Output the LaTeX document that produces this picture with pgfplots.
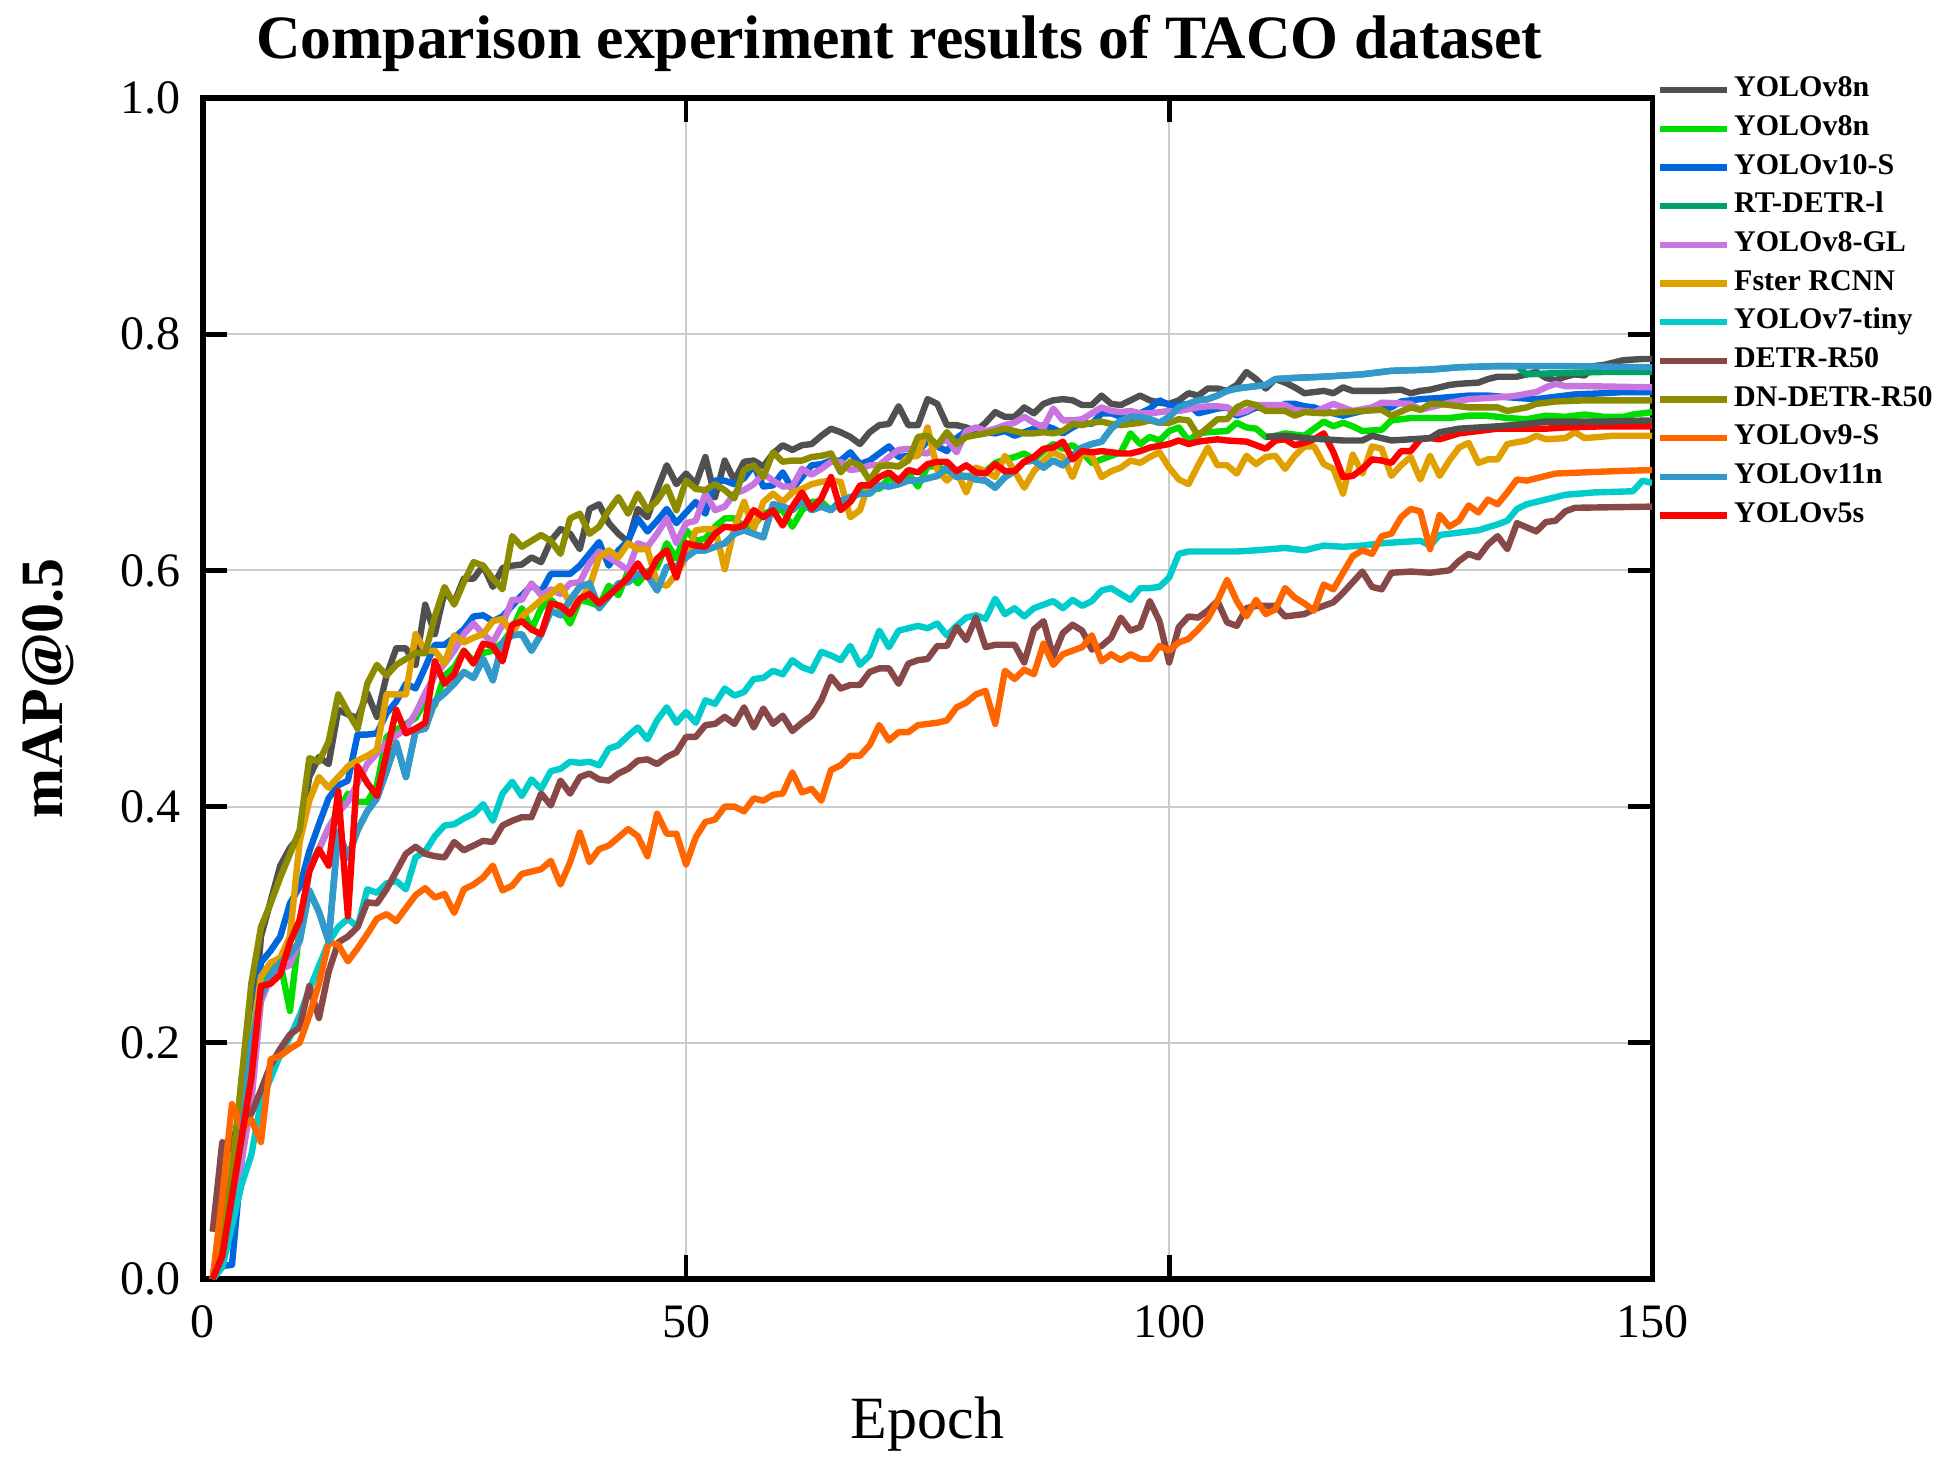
\documentclass[border=0pt]{standalone}
\usepackage{fontspec}
\setmainfont{Liberation Serif}
\usepackage{pgfplots}
\pgfplotsset{compat=1.18}

\definecolor{cGray}{HTML}{505050}
\definecolor{cGreen}{HTML}{00DD00}
\definecolor{cBlue}{HTML}{0066DD}
\definecolor{cTeal}{HTML}{00A066}
\definecolor{cViolet}{HTML}{C875E0}
\definecolor{cGold}{HTML}{E0A000}
\definecolor{cCyan}{HTML}{00CCCC}
\definecolor{cBrown}{HTML}{884848}
\definecolor{cOlive}{HTML}{8C8C00}
\definecolor{cOrange}{HTML}{FF6600}
\definecolor{cLBlue}{HTML}{3399CC}
\definecolor{cRed}{HTML}{FF0000}

\begin{document}
\begin{tikzpicture}
\path[use as bounding box] (0,0) rectangle (488.5pt,366.25pt);
\begin{axis}[
  at={(50.75pt,46.5pt)}, anchor=south west,
  scale only axis, width=362.3pt, height=295.25pt,
  xmin=0, xmax=150, ymin=0, ymax=1,
  xtick={0,50,100,150}, ytick={0,0.2,0.4,0.6,0.8,1.0},
  /pgf/number format/assume math mode=true,
  tick label style={font=\fontsize{12}{14}\selectfont},
  xticklabel style={yshift=-3pt},
  yticklabel style={/pgf/number format/fixed, /pgf/number format/fixed zerofill,
    /pgf/number format/precision=1, xshift=-2pt},
  tick align=inside, major tick length=6pt,
  every tick/.style={black, line width=1.2pt},
  axis line style={line width=1.3pt},
  grid=major, grid style={color=black!20, line width=0.5pt},
  xlabel={Epoch}, ylabel={\textbf{mAP@0.5}},
  xlabel style={font=\fontsize{15}{18}\selectfont, at={(rel axis cs:0.5,-0.123)}, anchor=center},
  ylabel style={font=\fontsize{15}{18}\selectfont, at={(rel axis cs:-0.107,0.5)}, anchor=center},
  title={\textbf{Comparison experiment results of TACO dataset}},
  % the default title style already adds a 6pt upward shift
  title style={font=\fontsize{15.4}{18}\selectfont, at={(rel axis cs:0.4805,1.026)}, anchor=center},
  legend style={at={(rel axis cs:1,1)}, anchor=north west, xshift=1.2pt, yshift=6.8pt,
    draw=none, fill=none, inner sep=0pt, outer sep=0pt, row sep=0pt,
    font=\fontsize{7.5}{9}\selectfont\bfseries,
    nodes={inner xsep=0pt, inner ysep=0pt, text height=6.5pt, text depth=3.17pt},
    /tikz/every odd column/.append style={column sep=1pt}},
  legend cell align=left,
  legend image code/.code={\draw[#1, line width=1.6pt] (0.3pt,0pt) -- (17pt,0pt);},
  every axis plot/.append style={line width=1.6pt, no markers, line join=round},
]
% YOLOv8n
\addplot[cGray] coordinates {(1,0.0)(2,0.05)(3,0.11)(4,0.15)(5,0.19)(6,0.29)(7,0.32)(8,0.35)(9,0.365)(10,0.375)(11,0.425)(12,0.442)(13,0.436)(14,0.482)(15,0.478)(16,0.475)(17,0.496)(18,0.476)(19,0.511)(20,0.534)(21,0.534)(22,0.52)(23,0.571)(24,0.546)(25,0.582)(26,0.573)(27,0.593)(28,0.593)(29,0.604)(30,0.586)(31,0.602)(32,0.604)(33,0.605)(34,0.611)(35,0.607)(36,0.625)(37,0.635)(38,0.631)(39,0.618)(40,0.652)(41,0.656)(42,0.64)(43,0.631)(44,0.624)(45,0.652)(46,0.645)(47,0.668)(48,0.689)(49,0.673)(50,0.682)(51,0.673)(52,0.696)(53,0.662)(54,0.693)(55,0.676)(56,0.692)(57,0.693)(58,0.688)(59,0.699)(60,0.706)(61,0.702)(62,0.706)(63,0.707)(64,0.714)(65,0.72)(66,0.717)(67,0.713)(68,0.707)(69,0.717)(70,0.723)(71,0.724)(72,0.739)(73,0.723)(74,0.723)(75,0.745)(76,0.741)(77,0.723)(78,0.723)(79,0.721)(80,0.718)(81,0.725)(82,0.734)(83,0.73)(84,0.73)(85,0.738)(86,0.733)(87,0.741)(88,0.744)(89,0.745)(90,0.744)(91,0.74)(92,0.74)(93,0.748)(94,0.741)(95,0.74)(96,0.744)(97,0.748)(98,0.744)(99,0.742)(100,0.741)(101,0.744)(102,0.75)(103,0.748)(104,0.754)(105,0.754)(106,0.752)(107,0.757)(108,0.768)(109,0.762)(110,0.754)(111,0.762)(112,0.759)(113,0.755)(114,0.75)(116,0.752)(117,0.75)(118,0.755)(119,0.752)(121,0.752)(122,0.752)(124,0.753)(125,0.75)(126,0.752)(127,0.753)(129,0.757)(130,0.758)(132,0.759)(133,0.762)(134,0.764)(136,0.764)(137,0.766)(138,0.768)(139,0.763)(140,0.761)(141,0.764)(142,0.766)(143,0.765)(144,0.773)(145,0.774)(146,0.776)(147,0.778)(149,0.779)(150,0.779)};
\addlegendentry{YOLOv8n}
% YOLOv8n (green)
\addplot[cGreen] coordinates {(1,0.0)(2,0.02)(3,0.08)(4,0.17)(5,0.21)(6,0.25)(7,0.262)(8,0.268)(9,0.227)(10,0.296)(11,0.35)(12,0.364)(13,0.382)(14,0.396)(15,0.411)(16,0.404)(17,0.404)(18,0.418)(19,0.459)(20,0.465)(21,0.47)(22,0.475)(23,0.489)(24,0.486)(25,0.511)(26,0.518)(27,0.532)(28,0.523)(29,0.53)(30,0.532)(31,0.539)(32,0.55)(33,0.568)(34,0.55)(35,0.568)(36,0.575)(37,0.568)(38,0.555)(39,0.575)(40,0.573)(41,0.57)(42,0.587)(43,0.579)(44,0.599)(45,0.589)(46,0.599)(47,0.603)(48,0.623)(49,0.61)(50,0.634)(51,0.625)(52,0.627)(53,0.637)(54,0.644)(55,0.644)(56,0.637)(57,0.638)(58,0.648)(59,0.651)(60,0.651)(61,0.637)(62,0.651)(63,0.658)(64,0.658)(65,0.651)(66,0.659)(67,0.658)(68,0.669)(69,0.671)(70,0.669)(71,0.678)(72,0.675)(73,0.682)(74,0.671)(75,0.688)(76,0.688)(77,0.684)(78,0.682)(79,0.679)(80,0.682)(81,0.684)(82,0.691)(83,0.694)(84,0.696)(85,0.699)(86,0.694)(87,0.701)(88,0.707)(89,0.703)(90,0.706)(91,0.70)(92,0.691)(93,0.694)(94,0.697)(95,0.7)(96,0.716)(97,0.707)(98,0.713)(99,0.71)(100,0.718)(101,0.721)(102,0.71)(103,0.716)(104,0.717)(106,0.718)(107,0.725)(108,0.721)(109,0.72)(110,0.713)(111,0.714)(112,0.716)(113,0.715)(114,0.714)(115,0.72)(116,0.726)(117,0.722)(118,0.725)(119,0.722)(120,0.718)(122,0.719)(123,0.727)(125,0.729)(127,0.729)(129,0.729)(131,0.731)(133,0.731)(135,0.729)(137,0.728)(139,0.731)(141,0.73)(143,0.732)(145,0.73)(147,0.73)(148,0.732)(150,0.734)};
\addlegendentry{YOLOv8n}
% YOLOv10-S
\addplot[cBlue] coordinates {(1,0.01)(2,0.011)(3,0.012)(4,0.1)(5,0.2)(6,0.268)(7,0.278)(8,0.29)(9,0.318)(10,0.332)(11,0.362)(12,0.385)(13,0.407)(14,0.418)(15,0.422)(16,0.461)(17,0.461)(18,0.462)(19,0.479)(20,0.489)(21,0.504)(22,0.5)(23,0.518)(24,0.537)(25,0.537)(26,0.543)(27,0.55)(28,0.561)(29,0.562)(30,0.557)(31,0.561)(32,0.57)(33,0.579)(34,0.587)(35,0.582)(36,0.597)(37,0.597)(38,0.597)(39,0.604)(40,0.614)(41,0.624)(42,0.604)(43,0.617)(44,0.625)(45,0.644)(46,0.633)(47,0.642)(48,0.652)(49,0.64)(50,0.649)(51,0.658)(52,0.648)(53,0.676)(54,0.676)(55,0.673)(56,0.678)(57,0.689)(58,0.671)(59,0.672)(60,0.683)(61,0.669)(62,0.679)(63,0.689)(64,0.69)(65,0.693)(66,0.693)(67,0.7)(68,0.69)(69,0.693)(70,0.699)(71,0.705)(72,0.696)(73,0.697)(74,0.7)(75,0.71)(76,0.705)(77,0.701)(78,0.712)(79,0.718)(80,0.717)(81,0.717)(82,0.716)(83,0.718)(84,0.714)(85,0.717)(86,0.72)(87,0.723)(88,0.72)(89,0.716)(90,0.721)(91,0.725)(92,0.724)(93,0.733)(94,0.733)(95,0.73)(96,0.728)(97,0.733)(98,0.737)(99,0.744)(100,0.74)(101,0.74)(102,0.741)(103,0.733)(104,0.735)(105,0.737)(106,0.738)(107,0.731)(108,0.734)(109,0.738)(110,0.737)(111,0.735)(112,0.741)(113,0.741)(114,0.739)(115,0.738)(116,0.735)(118,0.731)(120,0.735)(121,0.736)(123,0.738)(124,0.743)(126,0.745)(128,0.746)(131,0.748)(133,0.748)(136,0.746)(138,0.745)(139,0.746)(142,0.749)(145,0.75)(147,0.751)(150,0.751)};
\addlegendentry{YOLOv10-S}
% RT-DETR-l
\addplot[cTeal] coordinates {(1,0.0)(2,0.018)(3,0.067)(4,0.12)(5,0.2)(6,0.24)(7,0.258)(8,0.268)(9,0.275)(10,0.286)(11,0.329)(12,0.311)(13,0.286)(14,0.379)(15,0.357)(16,0.38)(17,0.396)(18,0.407)(19,0.43)(20,0.454)(21,0.425)(22,0.464)(23,0.466)(24,0.489)(25,0.496)(26,0.504)(27,0.514)(28,0.509)(29,0.525)(30,0.507)(31,0.539)(32,0.545)(33,0.546)(34,0.532)(35,0.546)(36,0.566)(37,0.562)(38,0.575)(39,0.586)(40,0.589)(41,0.568)(42,0.578)(43,0.589)(44,0.59)(45,0.597)(46,0.596)(47,0.583)(48,0.603)(49,0.603)(50,0.611)(51,0.617)(52,0.617)(53,0.62)(54,0.623)(55,0.631)(56,0.634)(57,0.631)(58,0.628)(59,0.656)(60,0.654)(61,0.651)(62,0.659)(63,0.651)(64,0.654)(65,0.651)(66,0.659)(67,0.662)(68,0.665)(69,0.665)(70,0.672)(71,0.671)(72,0.673)(73,0.676)(74,0.676)(75,0.678)(76,0.68)(77,0.687)(78,0.679)(79,0.68)(80,0.677)(81,0.676)(82,0.67)(83,0.679)(84,0.684)(85,0.692)(86,0.693)(87,0.687)(88,0.693)(89,0.689)(90,0.697)(91,0.704)(92,0.707)(93,0.709)(94,0.72)(95,0.727)(96,0.73)(97,0.73)(98,0.728)(99,0.725)(100,0.73)(101,0.738)(102,0.741)(103,0.744)(104,0.745)(105,0.748)(106,0.752)(107,0.754)(108,0.755)(110,0.757)(111,0.762)(113,0.763)(116,0.764)(120,0.766)(123,0.769)(127,0.77)(130,0.772)(134,0.773)(136,0.773)(137,0.766)(140,0.767)(145,0.768)(150,0.768)};
\addlegendentry{RT-DETR-l}
% YOLOv8-GL
\addplot[cViolet] coordinates {(1,0.0)(2,0.01)(3,0.05)(4,0.1)(5,0.15)(6,0.235)(7,0.255)(8,0.262)(9,0.266)(10,0.286)(11,0.346)(12,0.364)(13,0.382)(14,0.395)(15,0.404)(16,0.42)(17,0.436)(18,0.445)(19,0.454)(20,0.46)(21,0.466)(22,0.479)(23,0.496)(24,0.511)(25,0.521)(26,0.532)(27,0.546)(28,0.555)(29,0.546)(30,0.539)(31,0.554)(32,0.575)(33,0.575)(34,0.589)(35,0.579)(36,0.584)(37,0.58)(38,0.589)(39,0.59)(40,0.606)(41,0.616)(42,0.611)(43,0.606)(44,0.6)(45,0.623)(46,0.62)(47,0.631)(48,0.644)(49,0.623)(50,0.64)(51,0.642)(52,0.665)(53,0.651)(54,0.654)(55,0.665)(56,0.668)(57,0.673)(58,0.682)(59,0.676)(60,0.671)(61,0.671)(62,0.686)(63,0.681)(64,0.686)(65,0.692)(66,0.692)(67,0.685)(68,0.686)(69,0.689)(70,0.689)(71,0.696)(72,0.702)(73,0.703)(74,0.7)(75,0.699)(76,0.707)(77,0.711)(78,0.70)(79,0.718)(80,0.721)(81,0.718)(82,0.72)(83,0.723)(84,0.725)(85,0.73)(86,0.725)(87,0.721)(88,0.737)(89,0.727)(90,0.727)(91,0.728)(92,0.733)(93,0.738)(94,0.735)(95,0.734)(96,0.735)(97,0.733)(98,0.733)(99,0.734)(100,0.735)(101,0.735)(103,0.738)(104,0.739)(105,0.739)(106,0.738)(107,0.733)(108,0.735)(109,0.74)(110,0.74)(111,0.74)(112,0.74)(113,0.736)(114,0.735)(115,0.734)(117,0.741)(119,0.735)(121,0.738)(122,0.742)(125,0.741)(126,0.736)(127,0.738)(129,0.742)(131,0.745)(133,0.746)(135,0.747)(136,0.748)(138,0.751)(139,0.755)(140,0.758)(141,0.756)(143,0.756)(150,0.755)};
\addlegendentry{YOLOv8-GL}
% Fster RCNN
\addplot[cGold] coordinates {(1,0.0)(2,0.05)(3,0.1)(4,0.15)(5,0.2)(6,0.256)(7,0.268)(8,0.272)(9,0.29)(10,0.37)(11,0.405)(12,0.425)(13,0.416)(14,0.425)(15,0.434)(16,0.439)(17,0.443)(18,0.448)(19,0.495)(20,0.495)(21,0.495)(22,0.546)(23,0.532)(24,0.532)(25,0.521)(26,0.545)(27,0.539)(28,0.543)(29,0.546)(30,0.557)(31,0.559)(32,0.546)(33,0.561)(34,0.568)(35,0.575)(36,0.58)(37,0.587)(38,0.572)(39,0.575)(40,0.586)(41,0.611)(42,0.617)(43,0.611)(44,0.623)(45,0.618)(46,0.618)(47,0.589)(48,0.587)(49,0.597)(50,0.611)(51,0.634)(52,0.635)(53,0.635)(54,0.601)(55,0.636)(56,0.658)(57,0.635)(58,0.658)(59,0.665)(60,0.658)(61,0.666)(62,0.669)(63,0.673)(64,0.675)(65,0.676)(66,0.675)(67,0.645)(68,0.651)(69,0.676)(70,0.689)(71,0.689)(72,0.688)(73,0.696)(74,0.697)(75,0.721)(76,0.685)(77,0.676)(78,0.684)(79,0.666)(80,0.687)(81,0.684)(82,0.679)(83,0.697)(84,0.684)(85,0.67)(86,0.684)(87,0.693)(88,0.7)(89,0.696)(90,0.679)(91,0.7)(92,0.697)(93,0.679)(94,0.684)(95,0.687)(96,0.693)(97,0.691)(98,0.696)(99,0.7)(100,0.687)(101,0.677)(102,0.673)(103,0.689)(104,0.704)(105,0.689)(106,0.689)(107,0.682)(108,0.697)(109,0.69)(110,0.696)(111,0.697)(112,0.686)(113,0.697)(114,0.705)(115,0.705)(116,0.69)(117,0.686)(118,0.665)(119,0.698)(120,0.682)(121,0.705)(122,0.703)(123,0.68)(124,0.689)(125,0.696)(126,0.677)(127,0.697)(128,0.68)(129,0.693)(130,0.704)(131,0.708)(132,0.691)(133,0.694)(134,0.694)(135,0.707)(137,0.71)(138,0.714)(139,0.711)(141,0.712)(142,0.717)(143,0.712)(146,0.714)(150,0.714)};
\addlegendentry{Fster RCNN}
% YOLOv7-tiny
\addplot[cCyan] coordinates {(1,0.0)(2,0.01)(3,0.045)(4,0.08)(5,0.105)(6,0.15)(7,0.17)(8,0.19)(9,0.205)(10,0.223)(11,0.245)(12,0.265)(13,0.285)(14,0.298)(15,0.305)(16,0.298)(17,0.33)(18,0.327)(19,0.335)(20,0.337)(21,0.33)(22,0.357)(23,0.362)(24,0.375)(25,0.384)(26,0.385)(27,0.39)(28,0.394)(29,0.402)(30,0.388)(31,0.411)(32,0.421)(33,0.409)(34,0.423)(35,0.415)(36,0.43)(37,0.432)(38,0.438)(39,0.437)(40,0.438)(41,0.435)(42,0.449)(43,0.452)(44,0.46)(45,0.467)(46,0.457)(47,0.473)(48,0.484)(49,0.471)(50,0.48)(51,0.471)(52,0.49)(53,0.487)(54,0.5)(55,0.494)(56,0.497)(57,0.508)(58,0.509)(59,0.515)(60,0.512)(61,0.524)(62,0.518)(63,0.515)(64,0.531)(65,0.528)(66,0.524)(67,0.536)(68,0.52)(69,0.528)(70,0.549)(71,0.535)(72,0.549)(73,0.551)(74,0.553)(75,0.551)(76,0.555)(77,0.545)(78,0.553)(79,0.56)(80,0.562)(81,0.559)(82,0.576)(83,0.563)(84,0.568)(85,0.561)(86,0.568)(87,0.571)(88,0.574)(89,0.568)(90,0.575)(91,0.57)(92,0.574)(93,0.583)(94,0.585)(95,0.58)(96,0.575)(97,0.585)(98,0.585)(99,0.586)(100,0.594)(101,0.614)(102,0.616)(104,0.616)(107,0.616)(109,0.617)(112,0.619)(114,0.617)(116,0.621)(118,0.62)(120,0.621)(122,0.623)(124,0.624)(126,0.625)(127,0.621)(128,0.63)(130,0.632)(132,0.634)(134,0.639)(135,0.642)(136,0.652)(137,0.656)(139,0.66)(141,0.664)(144,0.666)(148,0.667)(149,0.676)(150,0.674)};
\addlegendentry{YOLOv7-tiny}
% DETR-R50
\addplot[cBrown] coordinates {(1,0.04)(2,0.116)(3,0.11)(4,0.128)(5,0.14)(6,0.16)(7,0.181)(8,0.195)(9,0.207)(10,0.213)(11,0.248)(12,0.221)(13,0.26)(14,0.285)(15,0.29)(16,0.298)(17,0.319)(18,0.318)(19,0.33)(20,0.345)(21,0.36)(22,0.366)(23,0.36)(24,0.358)(25,0.357)(26,0.37)(27,0.363)(28,0.367)(29,0.371)(30,0.37)(31,0.384)(32,0.388)(33,0.391)(34,0.391)(35,0.411)(36,0.401)(37,0.422)(38,0.411)(39,0.425)(40,0.428)(41,0.423)(42,0.422)(43,0.428)(44,0.432)(45,0.439)(46,0.44)(47,0.436)(48,0.442)(49,0.446)(50,0.459)(51,0.459)(52,0.469)(53,0.47)(54,0.476)(55,0.47)(56,0.484)(57,0.467)(58,0.483)(59,0.47)(60,0.477)(61,0.464)(62,0.471)(63,0.477)(64,0.49)(65,0.51)(66,0.5)(67,0.503)(68,0.503)(69,0.514)(70,0.517)(71,0.517)(72,0.504)(73,0.521)(74,0.524)(75,0.525)(76,0.536)(77,0.536)(78,0.552)(79,0.541)(80,0.56)(81,0.535)(82,0.537)(83,0.537)(84,0.537)(85,0.522)(86,0.55)(87,0.557)(88,0.527)(89,0.547)(90,0.554)(91,0.549)(92,0.533)(93,0.536)(94,0.543)(95,0.56)(96,0.549)(97,0.552)(98,0.574)(99,0.557)(100,0.522)(101,0.552)(102,0.561)(103,0.56)(104,0.566)(105,0.574)(106,0.556)(107,0.553)(108,0.568)(109,0.57)(111,0.57)(112,0.561)(114,0.563)(115,0.567)(117,0.573)(118,0.581)(120,0.599)(121,0.586)(122,0.584)(123,0.598)(125,0.599)(127,0.598)(129,0.6)(130,0.608)(131,0.614)(132,0.611)(133,0.622)(134,0.629)(135,0.618)(136,0.64)(138,0.633)(139,0.641)(140,0.642)(141,0.65)(142,0.653)(150,0.654)};
\addlegendentry{DETR-R50}
% DN-DETR-R50
\addplot[cOlive] coordinates {(1,0.0)(2,0.04)(3,0.09)(4,0.17)(5,0.25)(6,0.298)(7,0.318)(8,0.34)(9,0.36)(10,0.38)(11,0.441)(12,0.438)(13,0.455)(14,0.495)(15,0.48)(16,0.466)(17,0.504)(18,0.52)(19,0.511)(20,0.52)(21,0.525)(22,0.53)(23,0.53)(24,0.561)(25,0.586)(26,0.571)(27,0.59)(28,0.607)(29,0.604)(30,0.593)(31,0.584)(32,0.629)(33,0.62)(34,0.625)(35,0.63)(36,0.625)(37,0.614)(38,0.644)(39,0.648)(40,0.631)(41,0.637)(42,0.651)(43,0.662)(44,0.648)(45,0.665)(46,0.651)(47,0.659)(48,0.671)(49,0.651)(50,0.676)(51,0.669)(52,0.668)(53,0.673)(54,0.668)(55,0.661)(56,0.685)(57,0.689)(58,0.679)(59,0.7)(60,0.692)(61,0.693)(62,0.693)(63,0.696)(64,0.697)(65,0.699)(66,0.683)(67,0.692)(68,0.689)(69,0.676)(70,0.688)(71,0.689)(72,0.688)(73,0.693)(74,0.713)(75,0.714)(76,0.706)(77,0.717)(78,0.707)(79,0.713)(81,0.716)(82,0.718)(83,0.72)(85,0.716)(86,0.716)(87,0.717)(88,0.716)(89,0.718)(90,0.724)(91,0.723)(92,0.725)(93,0.726)(94,0.724)(95,0.723)(96,0.724)(97,0.725)(98,0.727)(99,0.725)(100,0.725)(101,0.728)(102,0.727)(103,0.714)(104,0.721)(105,0.728)(106,0.728)(107,0.738)(108,0.742)(109,0.74)(110,0.735)(111,0.735)(112,0.735)(113,0.731)(114,0.734)(116,0.733)(118,0.734)(120,0.735)(122,0.736)(123,0.731)(125,0.738)(126,0.736)(127,0.741)(128,0.741)(131,0.738)(134,0.738)(135,0.735)(137,0.738)(138,0.741)(140,0.743)(143,0.744)(150,0.744)};
\addlegendentry{DN-DETR-R50}
% YOLOv9-S
\addplot[cOrange] coordinates {(1,0.0)(2,0.07)(3,0.148)(4,0.128)(5,0.135)(6,0.116)(7,0.186)(8,0.189)(9,0.195)(10,0.2)(11,0.223)(12,0.25)(13,0.285)(14,0.283)(15,0.269)(16,0.28)(17,0.292)(18,0.305)(19,0.309)(20,0.303)(21,0.314)(22,0.325)(23,0.331)(24,0.323)(25,0.326)(26,0.31)(27,0.33)(28,0.334)(29,0.34)(30,0.35)(31,0.329)(32,0.333)(33,0.343)(34,0.345)(35,0.347)(36,0.354)(37,0.334)(38,0.353)(39,0.378)(40,0.353)(41,0.364)(42,0.367)(43,0.374)(44,0.381)(45,0.375)(46,0.358)(47,0.394)(48,0.377)(49,0.377)(50,0.351)(51,0.374)(52,0.387)(53,0.389)(54,0.4)(55,0.4)(56,0.396)(57,0.407)(58,0.405)(59,0.41)(60,0.411)(61,0.429)(62,0.412)(63,0.415)(64,0.405)(65,0.431)(66,0.435)(67,0.443)(68,0.443)(69,0.452)(70,0.469)(71,0.456)(72,0.463)(73,0.463)(74,0.469)(75,0.47)(76,0.471)(77,0.473)(78,0.484)(79,0.488)(80,0.495)(81,0.498)(82,0.47)(83,0.515)(84,0.508)(85,0.516)(86,0.512)(87,0.538)(88,0.52)(89,0.529)(90,0.532)(91,0.535)(92,0.545)(93,0.523)(94,0.529)(95,0.524)(96,0.529)(97,0.525)(98,0.525)(99,0.536)(100,0.532)(101,0.539)(102,0.542)(103,0.55)(104,0.559)(105,0.574)(106,0.592)(107,0.574)(108,0.561)(109,0.575)(110,0.563)(111,0.567)(112,0.585)(113,0.577)(114,0.572)(115,0.566)(116,0.588)(117,0.584)(118,0.598)(119,0.612)(120,0.617)(121,0.614)(122,0.629)(123,0.631)(124,0.645)(125,0.652)(126,0.65)(127,0.618)(128,0.647)(129,0.637)(130,0.642)(131,0.655)(132,0.649)(133,0.66)(134,0.656)(135,0.666)(136,0.677)(137,0.676)(138,0.678)(140,0.682)(143,0.683)(146,0.684)(150,0.685)};
\addlegendentry{YOLOv9-S}
% YOLOv11n
\addplot[cLBlue] coordinates {(1,0.0)(2,0.018)(3,0.067)(4,0.12)(5,0.2)(6,0.24)(7,0.258)(8,0.268)(9,0.275)(10,0.286)(11,0.329)(12,0.311)(13,0.286)(14,0.379)(15,0.357)(16,0.38)(17,0.396)(18,0.407)(19,0.43)(20,0.454)(21,0.425)(22,0.464)(23,0.466)(24,0.489)(25,0.496)(26,0.504)(27,0.514)(28,0.509)(29,0.525)(30,0.507)(31,0.539)(32,0.545)(33,0.546)(34,0.532)(35,0.546)(36,0.566)(37,0.562)(38,0.575)(39,0.586)(40,0.589)(41,0.568)(42,0.578)(43,0.589)(44,0.59)(45,0.597)(46,0.596)(47,0.583)(48,0.603)(49,0.603)(50,0.611)(51,0.617)(52,0.617)(53,0.62)(54,0.623)(55,0.631)(56,0.634)(57,0.631)(58,0.628)(59,0.656)(60,0.654)(61,0.651)(62,0.659)(63,0.651)(64,0.654)(65,0.651)(66,0.659)(67,0.662)(68,0.665)(69,0.665)(70,0.672)(71,0.671)(72,0.673)(73,0.676)(74,0.676)(75,0.678)(76,0.68)(77,0.687)(78,0.679)(79,0.68)(80,0.677)(81,0.676)(82,0.67)(83,0.679)(84,0.684)(85,0.692)(86,0.693)(87,0.687)(88,0.693)(89,0.689)(90,0.697)(91,0.704)(92,0.707)(93,0.709)(94,0.72)(95,0.727)(96,0.73)(97,0.73)(98,0.728)(99,0.725)(100,0.73)(101,0.738)(102,0.741)(103,0.744)(104,0.745)(105,0.748)(106,0.752)(107,0.754)(108,0.755)(110,0.757)(111,0.762)(113,0.763)(116,0.764)(120,0.766)(123,0.769)(127,0.77)(130,0.772)(134,0.773)(141,0.773)(150,0.772)};
\addlegendentry{YOLOv11n}
% YOLOv5s
\addplot[cRed] coordinates {(1,0.0)(2,0.02)(3,0.07)(4,0.12)(5,0.17)(6,0.248)(7,0.25)(8,0.258)(9,0.285)(10,0.304)(11,0.345)(12,0.364)(13,0.35)(14,0.413)(15,0.307)(16,0.434)(17,0.42)(18,0.409)(19,0.445)(20,0.482)(21,0.462)(22,0.466)(23,0.471)(24,0.523)(25,0.504)(26,0.512)(27,0.532)(28,0.521)(29,0.538)(30,0.536)(31,0.523)(32,0.554)(33,0.557)(34,0.55)(35,0.546)(36,0.572)(37,0.57)(38,0.563)(39,0.576)(40,0.58)(41,0.572)(42,0.579)(43,0.586)(44,0.594)(45,0.606)(46,0.594)(47,0.61)(48,0.617)(49,0.594)(50,0.623)(51,0.621)(52,0.62)(53,0.631)(54,0.637)(55,0.636)(56,0.638)(57,0.651)(58,0.645)(59,0.651)(60,0.638)(61,0.654)(62,0.666)(63,0.652)(64,0.661)(65,0.679)(66,0.651)(67,0.658)(68,0.672)(69,0.672)(70,0.679)(71,0.683)(72,0.676)(73,0.685)(74,0.683)(75,0.69)(76,0.692)(77,0.692)(78,0.684)(79,0.689)(80,0.683)(81,0.682)(82,0.69)(83,0.684)(84,0.684)(85,0.692)(86,0.696)(87,0.703)(88,0.704)(89,0.709)(90,0.694)(91,0.701)(92,0.7)(93,0.701)(95,0.699)(96,0.699)(97,0.701)(98,0.704)(100,0.707)(101,0.71)(102,0.707)(103,0.709)(105,0.711)(106,0.71)(108,0.709)(110,0.703)(111,0.71)(112,0.711)(113,0.706)(114,0.708)(115,0.711)(116,0.716)(117,0.7)(118,0.679)(119,0.68)(120,0.686)(121,0.694)(122,0.693)(123,0.691)(124,0.701)(125,0.701)(126,0.711)(127,0.712)(128,0.711)(130,0.716)(132,0.718)(134,0.72)(139,0.72)(141,0.721)(145,0.722)(150,0.722)};
\addlegendentry{YOLOv5s}
% second dark grey trace seen near the end (not in the legend)
\addplot[cGray, forget plot] coordinates {(110,0.713)(112,0.714)(114,0.712)(116,0.711)(118,0.71)(120,0.71)(121,0.714)(123,0.71)(125,0.711)(127,0.712)(128,0.717)(130,0.72)(132,0.721)(134,0.722)(137,0.724)(139,0.726)(145,0.726)(150,0.727)};
\end{axis}
\end{tikzpicture}
\end{document}
